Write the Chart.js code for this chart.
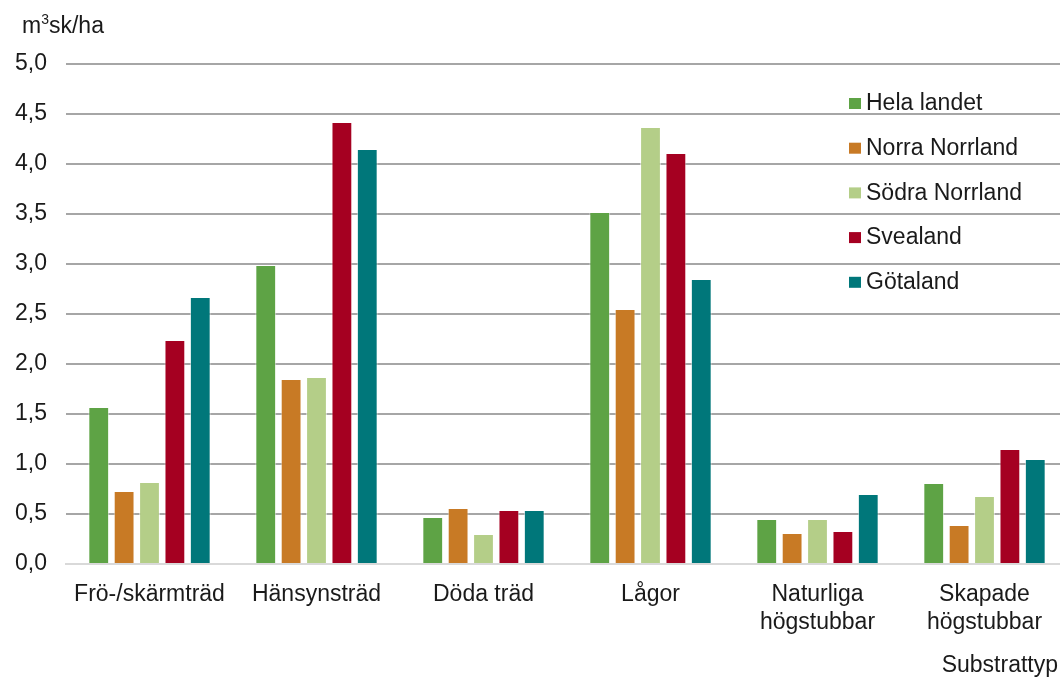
<!DOCTYPE html>
<html lang="sv">
<head>
    <meta charset="UTF-8">
    <title>Substrattyp</title>
    <script src="https://cdn.jsdelivr.net/npm/chart.js"></script>
    <style>
        html, body { margin: 0; padding: 0; background: #fff; overflow: hidden; }
        /* the plot runs a little past the right edge of the picture */
        #wrap { width: 1068px; height: 677px; }
    </style>
</head>
<body>
<div id="wrap"><canvas id="chart"></canvas></div>

<script>
    // Data
    const categories = ['Frö-/skärmträd', 'Hänsynsträd', 'Döda träd', 'Lågor', ['Naturliga', 'högstubbar'], ['Skapade', 'högstubbar']];
    const helaLandet   = [1.57, 2.99, 0.47, 3.52, 0.45, 0.81];
    const norraNorrland = [0.73, 1.85, 0.56, 2.55, 0.31, 0.39];
    const sodraNorrland = [0.82, 1.87, 0.30, 4.37, 0.45, 0.68];
    const svealand     = [2.24, 4.42, 0.54, 4.11, 0.33, 1.15];
    const gotaland     = [2.67, 4.15, 0.54, 2.85, 0.70, 1.05];
    const yTicks = [0, 0.5, 1, 1.5, 2, 2.5, 3, 3.5, 4, 4.5, 5];

    const FONT = '"Liberation Sans", Arial, sans-serif';
    const TEXT = '#1a1a1a';
    const VIEW_W = 1060;

    // title, axis name and legend drawn by hand
    const extras = {
        id: 'extras',
        afterDraw(chart) {
            const { ctx, chartArea } = chart;
            ctx.save();
            ctx.fillStyle = TEXT;
            ctx.textBaseline = 'alphabetic';

            // unit label m³sk/ha
            ctx.font = '23px ' + FONT;
            ctx.fillText('m', 22, 33);
            let x = 22 + ctx.measureText('m').width;
            ctx.font = '14px ' + FONT;
            ctx.fillText('3', x, 24);
            x += ctx.measureText('3').width;
            ctx.font = '23px ' + FONT;
            ctx.fillText('sk/ha', x, 33);

            // x axis name
            ctx.textAlign = 'right';
            ctx.textBaseline = 'middle';
            ctx.fillText('Substrattyp', VIEW_W - 2, 666);

            // legend
            ctx.textAlign = 'left';
            const lx = VIEW_W - 211;
            chart.data.datasets.forEach((ds, i) => {
                const y = chartArea.top + 39 + i * 44.7;
                ctx.fillStyle = ds.backgroundColor;
                ctx.fillRect(lx, y - 5, 12, 11);
                ctx.fillStyle = TEXT;
                ctx.fillText(ds.label, lx + 17, y + 1);
            });
            ctx.restore();
        }
    };

    const common = { borderWidth: 1, borderColor: 'rgba(255,255,255,0.55)', categoryPercentage: 0.76, barPercentage: 0.82 };

    new Chart(document.getElementById('chart'), {
        type: 'bar',
        data: {
            labels: categories,
            datasets: [
                { label: 'Hela landet', data: helaLandet, backgroundColor: '#5ea345', ...common },
                { label: 'Norra Norrland', data: norraNorrland, backgroundColor: '#c87a25', ...common },
                { label: 'Södra Norrland', data: sodraNorrland, backgroundColor: '#b4ce88', ...common },
                { label: 'Svealand', data: svealand, backgroundColor: '#a50021', ...common },
                { label: 'Götaland', data: gotaland, backgroundColor: '#00777a', ...common }
            ]
        },
        options: {
            responsive: true,
            maintainAspectRatio: false,
            animation: false,
            layout: { padding: { top: 64, right: 0, left: 0, bottom: 0 } },
            plugins: {
                legend: { display: false },
                tooltip: { enabled: false }
            },
            scales: {
                x: {
                    grid: { display: false },
                    border: { color: '#d9d9d9', width: 2 },
                    ticks: { color: TEXT, padding: 9, font: { family: FONT, size: 23, lineHeight: 1.2 }, maxRotation: 0, autoSkip: false },
                    afterFit: (scale) => { scale.height = 113; }
                },
                y: {
                    min: 0,
                    max: 5,
                    afterBuildTicks: (scale) => { scale.ticks = yTicks.map(v => ({ value: v })); },
                    grid: {
                        drawTicks: false,
                        lineWidth: 2,
                        color: (c) => c.tick && c.tick.value === 0 ? '#d9d9d9' : '#a6a6a6'
                    },
                    border: { display: false },
                    ticks: {
                        color: TEXT,
                        padding: 19,
                        font: { family: FONT, size: 23 },
                        callback: (v) => v.toFixed(1).replace('.', ',')
                    },
                    afterFit: (scale) => { scale.width = 66; }
                }
            }
        },
        plugins: [extras]
    });
</script>
</body>
</html>
